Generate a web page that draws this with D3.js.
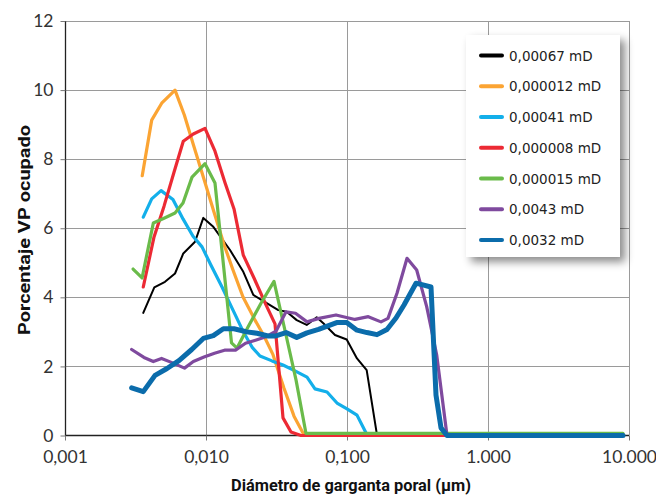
<!DOCTYPE html>
<html>
<head>
<meta charset="utf-8">
<script src="https://cdn.jsdelivr.net/npm/d3@7"></script>
<style>
  html, body { margin: 0; padding: 0; background: #fff; }
  svg { display: block; }
</style>
</head>
<body>
<svg id="chart" width="656" height="495"></svg>
<script>
// Pore-throat diameter (µm) and occupied pore volume (%) for each sample
const diam_00067 = [0.00359, 0.0043, 0.00512, 0.00603, 0.0069, 0.00836, 0.00957, 0.01127, 0.0148, 0.01839, 0.02165, 0.02695, 0.03257, 0.03735, 0.04398, 0.05179, 0.06097, 0.06792, 0.08221, 0.09952, 0.1177, 0.1379, 0.1624, 0.5119, 9.067];
const pct_00067  = [3.55, 4.29, 4.45, 4.69, 5.27, 5.61, 6.30, 6.04, 5.37, 4.74, 4.07, 3.83, 3.63, 3.58, 3.34, 3.20, 3.42, 3.25, 2.91, 2.78, 2.23, 1.89, 0.07, 0.07, 0.07];

const diam_000012 = [0.00353, 0.00412, 0.00485, 0.00603, 0.00702, 0.00822, 0.00968, 0.01139, 0.01342, 0.01554, 0.0183, 0.02226, 0.02578, 0.02987, 0.03575, 0.04209, 0.04874, 0.0529, 9.067];
const pct_000012  = [7.52, 9.13, 9.62, 10.0, 9.28, 8.36, 7.42, 6.47, 5.53, 4.79, 4.01, 3.34, 2.88, 2.34, 1.37, 0.56, 0.07, 0.04, 0.04];

const diam_00041 = [0.00359, 0.00412, 0.0048, 0.00583, 0.00687, 0.00809, 0.00937, 0.01085, 0.01299, 0.01554, 0.0183, 0.0212, 0.02415, 0.02938, 0.03517, 0.04278, 0.05204, 0.0593, 0.07215, 0.08494, 0.1, 0.1177, 0.1386, 9.067];
const pct_00041  = [6.32, 6.85, 7.09, 6.83, 6.27, 5.77, 5.46, 4.93, 4.30, 3.63, 3.02, 2.56, 2.30, 2.16, 2.04, 1.87, 1.69, 1.35, 1.26, 0.94, 0.77, 0.59, 0.02, 0.02];

const diam_000008 = [0.00359, 0.00428, 0.00504, 0.00593, 0.0069, 0.00813, 0.00984, 0.01158, 0.01364, 0.0158, 0.01839, 0.0219, 0.02664, 0.03086, 0.03517, 0.04007, 0.04718, 9.067];
const pct_000008  = [4.30, 5.75, 6.64, 7.62, 8.52, 8.73, 8.89, 8.23, 7.32, 6.56, 5.22, 4.56, 3.78, 3.23, 0.51, 0.10, 0, 0];

const diam_000015 = [0.00304, 0.00352, 0.00423, 0.00504, 0.00603, 0.00687, 0.00796, 0.00984, 0.01158, 0.01517, 0.0166, 0.01986, 0.02455, 0.03036, 0.03693, 0.04349, 0.05119, 9.067];
const pct_000015  = [4.82, 4.56, 6.15, 6.29, 6.44, 6.73, 7.48, 7.87, 7.31, 2.68, 2.53, 3.14, 3.83, 4.46, 2.91, 1.61, 0.06, 0.06];

const diam_0043 = [0.00297, 0.00363, 0.00423, 0.00484, 0.00574, 0.00704, 0.00813, 0.00968, 0.01149, 0.01353, 0.01619, 0.01906, 0.02244, 0.02664, 0.03137, 0.03693, 0.04313, 0.05204, 0.06331, 0.08356, 0.1139, 0.1416, 0.1742, 0.1953, 0.2262, 0.2665, 0.3121, 0.3674, 0.4328, 0.5119, 9.067];
const pct_0043  = [2.49, 2.26, 2.14, 2.23, 2.11, 1.95, 2.14, 2.27, 2.38, 2.47, 2.47, 2.67, 2.76, 2.86, 3.02, 3.58, 3.54, 3.29, 3.39, 3.49, 3.36, 3.44, 3.29, 3.39, 4.12, 5.13, 4.79, 3.73, 2.33, 0, 0];

const diam_0032 = [0.00297, 0.00359, 0.00435, 0.00529, 0.00643, 0.00792, 0.00957, 0.01127, 0.01327, 0.0158, 0.01944, 0.023, 0.02753, 0.03086, 0.03693, 0.04398, 0.05204, 0.0628, 0.08453, 0.09952, 0.1177, 0.1386, 0.1632, 0.1921, 0.2226, 0.2537, 0.3086, 0.3942, 0.4278, 0.4642, 0.5119, 9.067];
const pct_0032  = [1.38, 1.27, 1.74, 1.94, 2.17, 2.49, 2.81, 2.89, 3.09, 3.09, 3.00, 2.96, 2.88, 2.88, 2.98, 2.84, 2.97, 3.07, 3.27, 3.27, 3.05, 2.98, 2.92, 3.07, 3.40, 3.78, 4.41, 4.30, 1.17, 0.22, 0, 0];

const seriesLabels = ["0,00067 mD", "0,000012 mD", "0,00041 mD", "0,000008 mD", "0,000015 mD", "0,0043 mD", "0,0032 mD"];
const seriesDiam = [diam_00067, diam_000012, diam_00041, diam_000008, diam_000015, diam_0043, diam_0032];
const seriesPct  = [pct_00067, pct_000012, pct_00041, pct_000008, pct_000015, pct_0043, pct_0032];

const yTicks = [0, 2, 4, 6, 8, 10, 12];
const xTicks = [0.001, 0.01, 0.1, 1, 10];
const xTickLabels = ["0,001", "0,010", "0,100", "1.000", "10.000"];

// Styling per series (same order as the labels)
const lineColors = ["#000000", "#FBA433", "#13AFEA", "#EC2A34", "#6ABB4A", "#7F4A9E", "#0B6CAB"];
const lineWidths = [2, 3.2, 3.2, 3.2, 3.2, 3.2, 5];

const svg = d3.select("#chart");
const plotL = 65, plotR = 629, plotT = 21, plotB = 435.5;

const x = d3.scaleLog().domain([0.001, 10]).range([plotL, plotR]);
const y = d3.scaleLinear().domain([0, 12]).range([plotB, plotT]);

// Grid lines
const grid = svg.append("g");
grid.selectAll("line.h").data(yTicks.filter(t => t > 0)).join("line")
  .attr("x1", plotL).attr("x2", plotR)
  .attr("y1", d => Math.round(y(d)) + 0.5).attr("y2", d => Math.round(y(d)) + 0.5)
  .attr("stroke", "#9a9a9a").attr("stroke-width", 1);
grid.selectAll("line.v").data(xTicks.filter(t => t > 0.001)).join("line")
  .attr("x1", d => Math.round(x(d)) + 0.5).attr("x2", d => Math.round(x(d)) + 0.5)
  .attr("y1", plotT).attr("y2", plotB)
  .attr("stroke", "#9a9a9a").attr("stroke-width", 1);

// Axes
const yAxis = d3.axisLeft(y).tickValues(yTicks).tickSize(5).tickPadding(7).tickFormat(d3.format("d"));
const xAxis = d3.axisBottom(x).tickValues(xTicks).tickSize(5).tickPadding(10)
  .tickFormat((d, i) => xTickLabels[i]);

const gy = svg.append("g").attr("transform", `translate(${plotL + 0.5},0)`).call(yAxis);
const gx = svg.append("g").attr("transform", `translate(0,${plotB})`).call(xAxis);

[gx, gy].forEach(g => {
  g.select(".domain").attr("stroke", "#222").attr("stroke-width", 1.3);
  g.selectAll(".tick line").attr("stroke", "#777");
  g.selectAll(".tick text")
    .attr("font-family", "Lato, 'Open Sans', sans-serif")
    .attr("font-size", 17.5)
    .attr("fill", "#333");
});
gy.select(".domain").attr("d", `M0,${plotT}V${plotB}`);
gx.select(".domain").attr("d", `M${plotL},0H${plotR}`);

// Series lines
const line = d3.line()
  .x(d => x(d[0]))
  .y(d => y(d[1]));

const lines = svg.append("g").attr("fill", "none").attr("stroke-linejoin", "round").attr("stroke-linecap", "round");
seriesLabels.forEach((name, i) => {
  const pts = seriesDiam[i].map((dv, k) => [dv, seriesPct[i][k]]);
  lines.append("path")
    .datum(pts)
    .attr("d", line)
    .attr("stroke", lineColors[i])
    .attr("stroke-width", lineWidths[i]);
});

// Axis titles
svg.append("text")
  .attr("x", 351).attr("y", 491)
  .attr("text-anchor", "middle")
  .attr("font-family", "Roboto, 'Liberation Sans', sans-serif")
  .attr("font-weight", "bold")
  .attr("font-size", 16)
  .attr("textLength", 240)
  .attr("lengthAdjust", "spacingAndGlyphs")
  .attr("fill", "#111")
  .text("Diámetro de garganta poral (μm)");

svg.append("text")
  .attr("transform", "translate(30,230) rotate(-90)")
  .attr("text-anchor", "middle")
  .attr("font-family", "Roboto, 'Liberation Sans', sans-serif")
  .attr("font-weight", "bold")
  .attr("font-size", 16.5)
  .attr("textLength", 210)
  .attr("lengthAdjust", "spacingAndGlyphs")
  .attr("fill", "#111")
  .text("Porcentaje VP ocupado");

// Legend
const defs = svg.append("defs");
const f = defs.append("filter").attr("id", "shadow")
  .attr("x", "-10%").attr("y", "-10%").attr("width", "130%").attr("height", "130%");
f.append("feDropShadow")
  .attr("dx", 5).attr("dy", 5).attr("stdDeviation", 4)
  .attr("flood-color", "#000").attr("flood-opacity", 0.45);

const lg = svg.append("g").attr("transform", "translate(466,35)");
lg.append("rect")
  .attr("width", 154).attr("height", 222)
  .attr("fill", "#fff")
  .attr("filter", "url(#shadow)");

const rowY = d3.scalePoint().domain(d3.range(seriesLabels.length)).range([20.5, 205]);
const items = lg.selectAll("g.item").data(seriesLabels).join("g")
  .attr("transform", (d, i) => `translate(0,${rowY(i)})`);
items.append("line")
  .attr("x1", 15).attr("x2", 36)
  .attr("stroke", (d, i) => lineColors[i])
  .attr("stroke-width", 4)
  .attr("stroke-linecap", "round");
items.append("text")
  .attr("x", 43).attr("y", 5)
  .attr("font-family", "'DejaVu Sans', sans-serif")
  .attr("font-size", 13.5)
  .attr("fill", "#222")
  .text(d => d);
</script>
</body>
</html>
